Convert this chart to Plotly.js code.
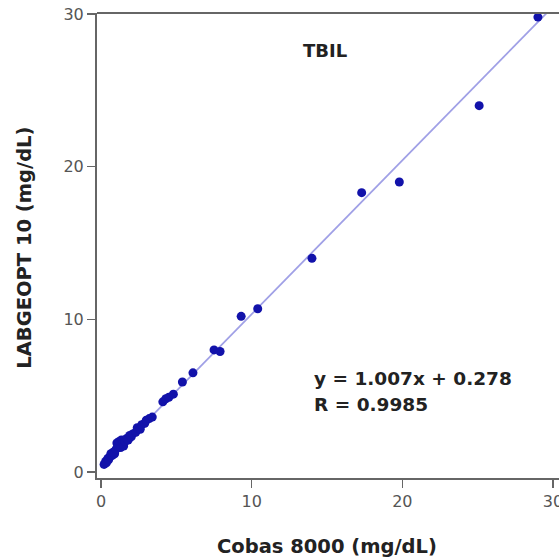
<!DOCTYPE html>
<html>
<head>
<meta charset="utf-8">
<script src="https://cdn.plot.ly/plotly-3.0.1.min.js"></script>
<style>html,body{margin:0;padding:0;background:#fff;}</style>
</head>
<body>
<div id="chart" style="width:559px;height:557px;"></div>
<script>
// Cobas 8000 (x) vs LABGEOPT 10 (y), mg/dL
const cobas = [0.2, 0.3, 0.35, 0.45, 0.5, 0.6, 0.65, 0.75, 0.8, 0.9, 1.0, 1.05, 1.1, 1.2, 1.3, 1.35, 1.45, 1.5, 1.6, 1.7, 1.8, 1.9, 2.0, 2.1, 2.3, 2.4, 2.6, 2.7, 2.9, 3.0, 3.2, 3.4, 4.1, 4.3, 4.5, 4.8, 5.4, 6.1, 7.5, 7.9, 9.3, 10.4, 14.0, 17.3, 19.8, 25.1, 29.0];
const labgeo = [0.5, 0.7, 0.6, 0.9, 0.8, 1.0, 1.2, 1.1, 1.3, 1.2, 1.5, 1.9, 1.7, 2.0, 1.6, 2.1, 1.9, 1.7, 2.0, 2.2, 2.1, 2.4, 2.3, 2.5, 2.6, 2.9, 2.8, 3.1, 3.2, 3.4, 3.5, 3.6, 4.6, 4.8, 4.9, 5.1, 5.9, 6.5, 8.0, 7.9, 10.2, 10.7, 14.0, 18.3, 19.0, 24.0, 29.8];
const slope = 1.007;
const intercept = 0.278;
const fitX = [0, 30];
const fitY = fitX.map(v => slope * v + intercept);
const tickVals = [0, 10, 20, 30];

const fontFam = "DejaVu Sans, Verdana, sans-serif";
const traces = [
  {x: fitX, y: fitY, mode: 'lines', type: 'scatter', line: {color: '#a0a0e6', width: 1.8}, hoverinfo: 'skip'},
  {x: cobas, y: labgeo, mode: 'markers', type: 'scatter', marker: {color: '#1212aa', size: 9}}
];
const layout = {
  width: 559, height: 557,
  margin: {l: 97, r: 0, t: 13, b: 79},
  showlegend: false,
  paper_bgcolor: '#fff', plot_bgcolor: '#fff',
  font: {family: fontFam, color: '#333'},
  xaxis: {range: [-0.27, 30.4], tickvals: tickVals, ticks: 'outside', ticklen: 8, tickcolor: '#666', tickwidth: 1.5,
          showline: true, linecolor: '#666', linewidth: 2, showgrid: false, zeroline: false, ticklabeloverflow: 'allow',
          tickfont: {size: 16, color: '#555', family: fontFam}},
  yaxis: {range: [-0.39, 30.07], tickvals: tickVals, ticks: 'outside', ticklen: 8, tickcolor: '#666', tickwidth: 1.5,
          showline: true, linecolor: '#666', linewidth: 2, showgrid: false, zeroline: false,
          tickfont: {size: 16, color: '#555', family: fontFam}},
  shapes: [{type: 'line', xref: 'paper', yref: 'paper', x0: 0, x1: 1, y0: 1, y1: 1, line: {color: '#666', width: 2}}],
  annotations: [
    {text: '<b>TBIL</b>', xref: 'paper', yref: 'paper', x: 0.4935, y: 0.92, xanchor: 'center', yanchor: 'middle', showarrow: false, font: {size: 18, color: '#222', family: fontFam}},
    {text: '<b>y = 1.007x + 0.278</b>', xref: 'paper', yref: 'paper', x: 0.465, y: 0.215, xanchor: 'left', yanchor: 'middle', showarrow: false, font: {size: 18.5, color: '#222', family: fontFam}},
    {text: '<b>R = 0.9985</b>', xref: 'paper', yref: 'paper', x: 0.465, y: 0.157, xanchor: 'left', yanchor: 'middle', showarrow: false, font: {size: 18.5, color: '#222', family: fontFam}},
    {text: '<b>Cobas 8000 (mg/dL)</b>', xref: 'paper', yref: 'paper', x: 0.497, y: -0.148, xanchor: 'center', yanchor: 'middle', showarrow: false, font: {size: 19.5, color: '#222', family: fontFam}},
    {text: '<b>LABGEOPT 10 (mg/dL)</b>', xref: 'paper', yref: 'paper', x: -0.156, y: 0.495, xanchor: 'center', yanchor: 'middle', textangle: -90, showarrow: false, font: {size: 19.5, color: '#222', family: fontFam}}
  ]
};
Plotly.newPlot('chart', traces, layout, {displayModeBar: false, staticPlot: true});
</script>
</body>
</html>
